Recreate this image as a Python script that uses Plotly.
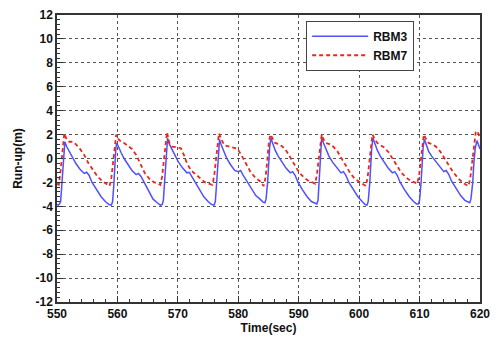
import plotly.graph_objects as go

# RBM3 (blue, solid)
rbm3_t = [550.0, 550.2, 550.4, 550.6, 550.8, 551.0, 551.15, 551.3,
          551.6, 552.0, 552.5, 553.1, 553.8, 554.5, 554.9, 555.3, 555.8, 556.5, 557.3, 558.0, 558.6, 559.0, 559.2, 559.4, 559.6, 559.75, 559.9,
          560.2, 560.6, 561.1, 561.7, 562.4, 563.1, 563.5, 563.9, 564.4, 565.1, 565.9, 566.6, 567.1, 567.4, 567.6, 567.8, 568.0, 568.15, 568.3,
          568.6, 569.0, 569.5, 570.1, 570.8, 571.5, 571.9, 572.3, 572.9, 573.5, 574.3, 575.0, 575.6, 576.0, 576.2, 576.4, 576.6, 576.75, 576.9,
          577.2, 577.6, 578.1, 578.7, 579.4, 580.0, 580.4, 580.8, 581.4, 582.1, 582.9, 583.6, 584.1, 584.4, 584.6, 584.85, 585.05, 585.2, 585.4,
          585.7, 586.1, 586.6, 587.2, 587.9, 588.6, 589.0, 589.4, 589.9, 590.6, 591.4, 592.1, 592.6, 593.0, 593.2, 593.4, 593.55, 593.7, 593.8,
          594.1, 594.5, 595.0, 595.6, 596.3, 597.0, 597.4, 597.8, 598.3, 599.0, 599.8, 600.5, 601.0, 601.3, 601.5, 601.75, 601.95, 602.1, 602.3,
          602.6, 603.0, 603.5, 604.1, 604.8, 605.5, 605.9, 606.3, 606.8, 607.5, 608.3, 609.0, 609.5, 609.8, 610.0, 610.25, 610.45, 610.6, 610.8,
          611.1, 611.5, 612.0, 612.6, 613.3, 614.0, 614.4, 614.8, 615.3, 616.0, 616.8, 617.5, 618.0, 618.3, 618.5, 618.8, 619.0, 619.2, 619.5, 619.8, 620.0]
rbm3_v = [-3.85, -3.9, -3.8, -3.6, -2.2, -0.3, 0.9, 1.4,
          1.0, 0.6, 0.1, -0.4, -0.9, -1.25, -1.15, -1.4, -2.0, -2.6, -3.2, -3.6, -3.85, -3.9, -3.6, -2.2, -0.3, 0.9, 1.3,
          0.9, 0.5, 0.0, -0.5, -1.0, -1.35, -1.25, -1.5, -2.0, -2.6, -3.4, -3.7, -3.9, -3.85, -3.5, -2.0, -0.2, 1.0, 1.7,
          1.2, 0.8, 0.2, -0.3, -0.8, -1.2, -1.15, -1.5, -2.1, -2.6, -3.2, -3.6, -3.85, -3.9, -3.6, -2.2, -0.3, 1.0, 1.6,
          1.1, 0.6, 0.0, -0.5, -1.0, -1.1, -1.0, -1.4, -1.9, -2.5, -3.1, -3.4, -3.65, -3.7, -3.4, -2.0, -0.2, 1.0, 1.7,
          1.2, 0.7, 0.2, -0.3, -0.8, -1.2, -1.1, -1.4, -2.0, -2.6, -3.2, -3.6, -3.75, -3.8, -3.5, -2.0, -0.2, 1.0, 1.8,
          1.3, 0.8, 0.2, -0.3, -0.8, -1.2, -1.1, -1.4, -2.0, -2.6, -3.2, -3.6, -3.85, -3.9, -3.6, -2.1, -0.2, 1.0, 1.7,
          1.2, 0.7, 0.2, -0.3, -0.8, -1.2, -1.1, -1.4, -2.0, -2.6, -3.2, -3.6, -3.8, -3.8, -3.5, -2.0, -0.2, 1.0, 1.6,
          1.1, 0.6, 0.2, -0.2, -0.7, -1.1, -1.0, -1.3, -1.9, -2.5, -3.1, -3.5, -3.65, -3.7, -3.4, -2.0, -0.3, 0.8, 1.5, 1.0, 0.8]

# RBM7 (red, dashed)
rbm7_t = [550.0, 550.3, 550.6, 550.9, 551.2,
          551.6, 552.0, 552.6, 553.1, 553.8, 554.5, 555.2, 555.9, 556.7, 557.5, 558.1, 558.7, 559.0, 559.3, 559.55, 559.8,
          560.2, 560.6, 561.1, 561.7, 562.4, 563.1, 563.8, 564.5, 565.3, 566.1, 566.7, 567.1, 567.4, 567.7, 567.95, 568.2,
          568.6, 569.1, 569.8, 570.5, 571.0, 571.5, 572.2, 572.9, 573.7, 574.5, 575.1, 575.7, 576.0, 576.3, 576.55, 576.8,
          577.2, 577.7, 578.5, 579.2, 579.9, 580.6, 581.3, 582.0, 582.8, 583.6, 584.2, 584.5, 584.8, 585.05, 585.3,
          585.7, 586.1, 586.7, 587.3, 588.0, 588.7, 589.4, 590.1, 590.9, 591.7, 592.3, 592.7, 593.0, 593.3, 593.55, 593.8,
          594.1, 594.5, 595.1, 595.7, 596.4, 597.1, 597.8, 598.5, 599.3, 600.1, 600.7, 601.1, 601.4, 601.7, 601.95, 602.2,
          602.6, 603.0, 603.6, 604.2, 604.9, 605.6, 606.3, 607.0, 607.8, 608.6, 609.2, 609.6, 609.9, 610.2, 610.45, 610.7,
          611.1, 611.5, 612.1, 612.7, 613.4, 614.1, 614.8, 615.5, 616.3, 617.1, 617.7, 618.1, 618.4, 618.7, 619.0, 619.3, 619.6, 620.0]
rbm7_v = [-2.1, -2.2, -1.0, 0.6, 2.1,
          1.6, 1.4, 1.4, 1.2, 0.8, 0.3, -0.4, -0.9, -1.5, -1.9, -2.1, -2.3, -1.6, -0.2, 1.3, 2.0,
          1.6, 1.4, 1.3, 1.1, 0.8, 0.3, -0.5, -1.2, -1.7, -2.0, -2.1, -2.2, -1.5, -0.1, 1.3, 2.2,
          1.3, 1.0, 0.95, 0.85, 0.3, -0.4, -1.0, -1.3, -1.7, -2.0, -2.1, -2.2, -1.5, -0.1, 1.3, 2.1,
          1.6, 1.1, 1.0, 0.9, 0.8, 0.2, -0.5, -1.1, -1.6, -1.9, -2.3, -1.6, -0.2, 1.3, 2.0,
          1.6, 1.3, 1.2, 1.0, 0.6, 0.0, -0.7, -1.2, -1.6, -1.9, -2.0, -2.1, -1.4, 0.0, 1.3, 2.0,
          1.6, 1.3, 1.2, 1.0, 0.6, 0.0, -0.7, -1.2, -1.7, -2.0, -2.2, -2.3, -1.6, -0.2, 1.3, 2.0,
          1.6, 1.3, 1.1, 0.9, 0.5, -0.1, -0.7, -1.2, -1.6, -1.9, -2.0, -2.1, -1.5, 0.0, 1.3, 2.0,
          1.6, 1.3, 1.2, 1.0, 0.6, 0.0, -0.6, -1.1, -1.6, -2.0, -2.2, -2.3, -1.6, -0.2, 1.2, 2.2, 2.3, 1.6]

x_ticks = [550, 560, 570, 580, 590, 600, 610, 620]
y_ticks = [12, 10, 8, 6, 4, 2, 0, -2, -4, -6, -8, -10, -12]

FONT = "Liberation Sans"

fig = go.Figure()
fig.add_trace(go.Scatter(x=rbm3_t, y=rbm3_v, mode="lines", name="RBM3",
                         line=dict(color="#5050ff", width=1.5)))
fig.add_trace(go.Scatter(x=rbm7_t, y=rbm7_v, mode="lines", name="RBM7",
                         line=dict(color="#e8281e", width=1.8, dash="4px,3px")))

axis_common = dict(
    showline=True, mirror=True, linecolor="#333333", linewidth=1.5,
    showgrid=True, gridcolor="#555555", griddash="dot", gridwidth=1,
    zeroline=False,
    ticks="inside", ticklen=6, tickwidth=1.2, tickcolor="#333333",
    tickfont=dict(family=FONT, size=12, color="#111111", weight="bold"),
)

fig.update_xaxes(range=[549.999, 620.001], tickvals=x_ticks, ticktext=[str(v) for v in x_ticks],
                 minor=dict(dtick=2, ticks="inside", ticklen=3, tickcolor="#333333", showgrid=False),
                 title=dict(text="Time(sec)", font=dict(family=FONT, size=12, color="#111111", weight="bold"), standoff=2),
                 ticklabeloverflow="allow",
                 **axis_common)
fig.update_yaxes(range=[-12, 12], tickvals=y_ticks, ticktext=[str(v) for v in y_ticks],
                 minor=dict(dtick=0.4, ticks="inside", ticklen=3, tickcolor="#333333", showgrid=False),
                 title=dict(text="Run-up(m)", font=dict(family=FONT, size=12, color="#111111", weight="bold"), standoff=10),
                 **axis_common)

fig.update_layout(
    width=498, height=340,
    margin=dict(l=57, r=8, t=12, b=33),
    paper_bgcolor="white", plot_bgcolor="white",
    showlegend=True,
    legend=dict(x=0.589, y=0.98, xanchor="left", yanchor="top",
                bgcolor="white", bordercolor="#444444", borderwidth=1,
                font=dict(family=FONT, size=12, color="#111111", weight="bold"),
                tracegroupgap=0, itemwidth=56),
)

fig.write_html("out.html")
